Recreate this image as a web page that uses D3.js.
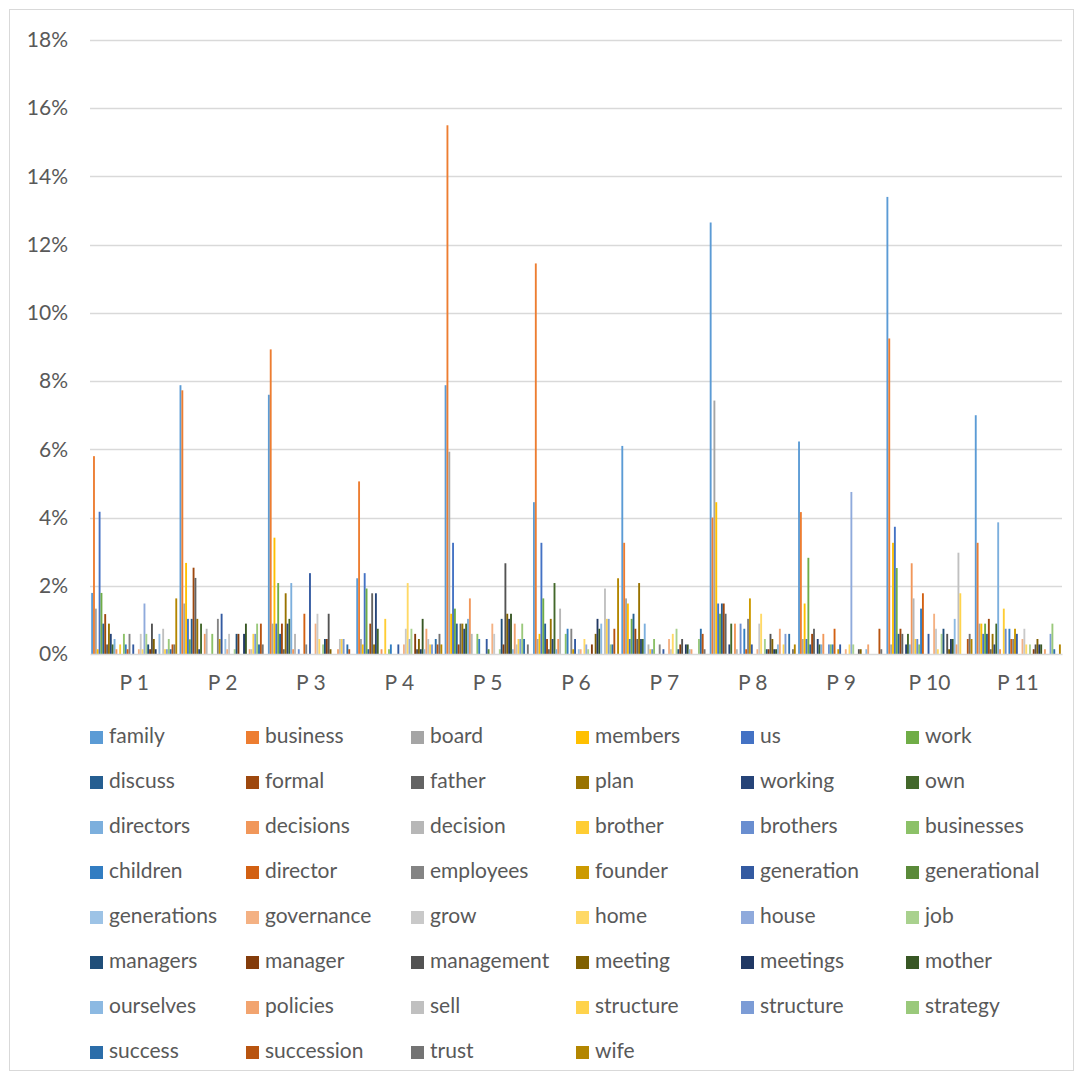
<!DOCTYPE html>
<html>
<head>
<meta charset="utf-8">
<script src="https://cdn.jsdelivr.net/npm/d3@7"></script>
<style>
  html, body { margin: 0; padding: 0; background: #fff; }
  svg { display: block; }
  text { font-family: Lato, "Open Sans", sans-serif; fill: #595959; }
</style>
</head>
<body>
<svg id="chart" width="1083" height="1079"></svg>
<script>
// Word frequency (% of words) per participant
const categories = ["P 1","P 2","P 3","P 4","P 5","P 6","P 7","P 8","P 9","P 10","P 11"];

const seriesNames = [
  "family","business","board","members","us","work",
  "discuss","formal","father","plan","working","own",
  "directors","decisions","decision","brother","brothers","businesses",
  "children","director","employees","founder","generation","generational",
  "generations","governance","grow","home","house","job",
  "managers","manager","management","meeting","meetings","mother",
  "ourselves","policies","sell","structure","structure","strategy",
  "success","succession","trust","wife"
];

const yTicks = [0, 2, 4, 6, 8, 10, 12, 14, 16, 18];

// One array per participant, in the same order as seriesNames
const valuesP1 = [
  1.79, 5.80, 1.33, 0.14, 4.17, 1.79,
  0.89, 1.17, 0.28, 0.89, 0.59, 0.28,
  0.44, 0.14, 0, 0.28, 0, 0.59,
  0.28, 0.14, 0.59, 0, 0.28, 0,
  0, 0.14, 0.59, 0.14, 1.48, 0.59,
  0.28, 0.14, 0.89, 0.44, 0.14, 0,
  0.59, 0, 0.74, 0.14, 0.14, 0.44,
  0.14, 0.28, 0.28, 1.63
];
const valuesP2 = [
  7.88, 7.73, 1.48, 2.67, 1.03, 0.43,
  1.03, 2.53, 2.23, 1.03, 0.14, 0.89,
  0, 0.59, 0.74, 0, 0, 0.59,
  0, 0, 1.03, 0.44, 1.18, 0,
  0.44, 0.14, 0.59, 0, 0, 0.14,
  0.59, 0.59, 0, 0, 0.59, 0.89,
  0, 0.14, 0.14, 0.59, 0.59, 0.89,
  0.28, 0.89, 0.28, 0
];
const valuesP3 = [
  7.60, 8.93, 0.89, 3.41, 0.89, 2.08,
  0.59, 0.89, 0.14, 1.78, 0.89, 1.03,
  2.08, 0.14, 0.59, 0, 0.14, 0,
  0, 1.18, 0.28, 0, 2.37, 0,
  0, 0.89, 1.18, 0.44, 0, 0.28,
  0.44, 0.44, 1.18, 0.14, 0, 0,
  0, 0.14, 0.44, 0.44, 0.44, 0,
  0.28, 0.14, 0, 0
];
const valuesP4 = [
  2.22, 5.06, 0.44, 0.28, 2.37, 1.92,
  0.14, 0.89, 1.78, 0.28, 1.78, 0.74,
  0, 0.14, 0, 1.03, 0, 0.14,
  0.28, 0, 0, 0, 0.28, 0,
  0, 0.28, 0.74, 2.08, 0.44, 0.74,
  0, 0.59, 0.14, 0.44, 0.14, 1.03,
  0.14, 0.74, 0.44, 0.28, 0.28, 0,
  0.44, 0.28, 0.59, 0.28
];
const valuesP5 = [
  7.88, 15.50, 5.93, 1.18, 3.26, 1.33,
  0.89, 0.28, 0.89, 0.89, 0.74, 0.89,
  1.03, 1.63, 0.59, 0, 0, 0.59,
  0.44, 0, 0, 0, 0.44, 0.14,
  0, 0.89, 0.59, 0, 0, 0.14,
  1.03, 0.28, 2.66, 1.18, 1.03, 1.18,
  0.14, 0.89, 0.28, 0.44, 0.44, 0.89,
  0.44, 0, 0.28, 0
];
const valuesP6 = [
  4.45, 11.45, 0.44, 0.59, 3.26, 1.63,
  0.89, 0.44, 0.14, 1.03, 0.44, 2.08,
  0.14, 0.44, 1.33, 0, 0, 0.59,
  0.74, 0, 0.74, 0.14, 0.44, 0,
  0.14, 0.14, 0, 0.44, 0.28, 0.14,
  0, 0.28, 0, 0.59, 1.03, 0.74,
  0.89, 0, 1.92, 1.03, 1.03, 0.28,
  0.28, 0.74, 0, 2.22
];
const valuesP7 = [
  6.10, 3.26, 1.63, 1.48, 0.44, 1.03,
  1.18, 0.74, 0.44, 2.08, 0.44, 0.44,
  0.89, 0, 0.28, 0.14, 0.14, 0.44,
  0, 0, 0.28, 0, 0.14, 0,
  0, 0.44, 0.14, 0.59, 0, 0.74,
  0.14, 0.28, 0.44, 0, 0.28, 0.28,
  0.14, 0.14, 0, 0, 0, 0.44,
  0.74, 0.59, 0.14, 0
];
const valuesP8 = [
  12.65, 4.00, 7.43, 4.45, 1.48, 1.18,
  1.48, 1.48, 1.18, 0, 0.28, 0.89,
  0, 0.89, 0.14, 0, 0.89, 0,
  0.74, 0.14, 1.03, 1.63, 0.28, 0,
  0, 0.14, 0.89, 1.18, 0, 0.44,
  0.14, 0.14, 0.59, 0.44, 0.14, 0.14,
  0.28, 0.74, 0, 0.28, 0.59, 0,
  0.59, 0, 0.14, 0.28
];
const valuesP9 = [
  6.23, 4.16, 0.44, 1.48, 0.44, 2.82,
  0.28, 0.59, 0.74, 0, 0.44, 0.28,
  0.28, 0.59, 0, 0, 0.28, 0.28,
  0.28, 0.74, 0, 0.14, 0.28, 0,
  0, 0.14, 0, 0.28, 4.75, 0.28,
  0, 0, 0.14, 0.14, 0, 0,
  0.14, 0.28, 0, 0, 0, 0,
  0, 0.74, 0.14, 0
];
const valuesP10 = [
  13.40, 9.25, 0.28, 3.26, 3.73, 2.52,
  0.59, 0.74, 0.59, 0, 0.28, 0.59,
  0.28, 2.66, 1.63, 0.44, 0.44, 0.28,
  1.33, 1.78, 0, 0, 0.59, 0,
  0, 1.18, 0.74, 0.14, 0, 0.59,
  0.74, 0, 0.59, 0.14, 0.44, 0.44,
  1.03, 0.28, 2.97, 1.78, 0, 0,
  0, 0.44, 0.59, 0.44
];
const valuesP11 = [
  7.00, 3.26, 0.89, 0.89, 0.59, 0.89,
  0.59, 1.03, 0.14, 0.59, 0.28, 0.89,
  3.86, 0.14, 0, 1.33, 0.74, 0,
  0.74, 0.44, 0.44, 0.74, 0.59, 0,
  0, 0.44, 0.74, 0.28, 0, 0.28,
  0, 0.14, 0.28, 0.44, 0.28, 0.28,
  0, 0.14, 0, 0, 0.59, 0.89,
  0.14, 0, 0, 0.28
];

const groupValues = [valuesP1, valuesP2, valuesP3, valuesP4, valuesP5, valuesP6,
                     valuesP7, valuesP8, valuesP9, valuesP10, valuesP11];

// Office theme accents, cycled with darker / lighter luminance variants
const accents = ["#5B9BD5", "#ED7D31", "#A5A5A5", "#FFC000", "#4472C4", "#70AD47"];
const lumSteps = [[1, 0], [0.6, 0], [0.8, 0.2], [0.8, 0], [0.6, 0.4], [0.5, 0], [0.7, 0.3], [0.7, 0]];
function seriesColor(i) {
  const c = d3.hsl(accents[i % 6]);
  const [mod, off] = lumSteps[Math.floor(i / 6) % lumSteps.length];
  c.l = c.l * mod + off;
  return c.formatHex();
}

const svg = d3.select("#chart");

// outer frame
svg.append("rect")
  .attr("x", 9.5).attr("y", 9.5)
  .attr("width", 1064).attr("height", 1061)
  .attr("fill", "#fff").attr("stroke", "#D9D9D9").attr("stroke-width", 1);

const plot = { left: 90, right: 1062, top: 40, bottom: 654 };

const y = d3.scaleLinear().domain([0, 18]).range([plot.bottom, plot.top]);
const x0 = d3.scaleBand().domain(categories).range([plot.left, plot.right]).padding(0);
const x1 = d3.scaleBand().domain(d3.range(seriesNames.length))
  .range([0, x0.bandwidth()]).paddingInner(0).paddingOuter(0.63);

// horizontal gridlines
svg.append("g")
  .selectAll("line")
  .data(yTicks.filter(t => t > 0))
  .join("line")
  .attr("x1", plot.left).attr("x2", plot.right)
  .attr("y1", d => Math.round(y(d)) + 0.5).attr("y2", d => Math.round(y(d)) + 0.5)
  .attr("stroke", "#D9D9D9").attr("stroke-width", 1.4);

// y-axis labels
const yAxis = d3.axisLeft(y).tickValues(yTicks).tickFormat(d => d + "%").tickSize(0).tickPadding(0);
const yg = svg.append("g").attr("transform", `translate(68,0)`).call(yAxis);
yg.select(".domain").remove();
yg.selectAll("text")
  .attr("font-size", 21).attr("fill", "#595959")
  .style("font-family", "Lato, sans-serif");

// bars
const groups = svg.append("g")
  .selectAll("g")
  .data(groupValues)
  .join("g")
  .attr("transform", (d, i) => `translate(${x0(categories[i])},0)`);

groups.selectAll("rect")
  .data(d => d.map((v, k) => ({ k, v })))
  .join("rect")
  .attr("x", d => x1(d.k))
  .attr("width", x1.bandwidth())
  .attr("y", d => y(d.v))
  .attr("height", d => y(0) - y(d.v))
  .attr("fill", d => seriesColor(d.k));

// category axis
const xAxis = d3.axisBottom(x0).tickSize(0).tickPadding(0);
const xg = svg.append("g").attr("transform", `translate(0,${plot.bottom})`).call(xAxis);
xg.select(".domain").attr("stroke", "#D9D9D9").attr("stroke-width", 1.6);
xg.selectAll("text")
  .attr("dy", null).attr("y", 31)
  .attr("dominant-baseline", "middle")
  .attr("font-size", 21).attr("fill", "#595959")
  .style("font-family", "Lato, sans-serif");

// legend, six columns
const legendCols = [90, 246, 411, 576, 741, 906];
const legendTop = 738;
const legendRowGap = 45;
const legend = svg.append("g")
  .selectAll("g")
  .data(seriesNames)
  .join("g")
  .attr("transform", (d, i) => `translate(${legendCols[i % 6]},${legendTop + Math.floor(i / 6) * legendRowGap})`);

legend.append("rect")
  .attr("x", 0).attr("y", -7)
  .attr("width", 13).attr("height", 13)
  .attr("fill", (d, i) => seriesColor(i));

legend.append("text")
  .attr("x", 19).attr("y", 0)
  .attr("dominant-baseline", "middle")
  .attr("font-size", 21)
  .text(d => d);
</script>
</body>
</html>
